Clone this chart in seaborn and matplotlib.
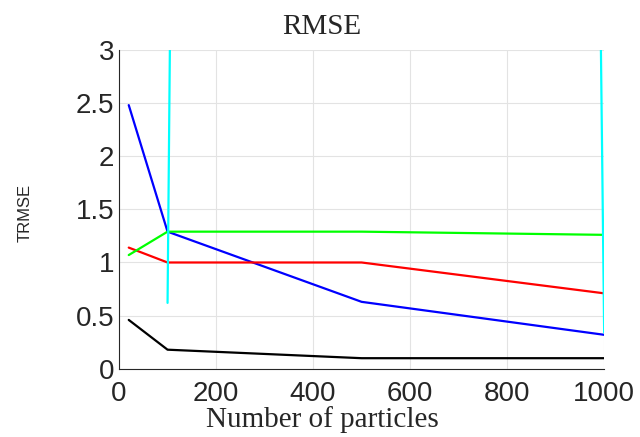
import numpy as np
import pandas as pd
import matplotlib
matplotlib.use("Agg")
import matplotlib.pyplot as plt
import seaborn as sns
from matplotlib.ticker import MultipleLocator

particles = [20, 100, 500, 1000]
blue_vals = [2.48, 1.29, 0.63, 0.32]
red_vals = [1.14, 1.00, 1.00, 0.71]
green_vals = [1.07, 1.29, 1.29, 1.26]
black_vals = [0.46, 0.18, 0.10, 0.10]
cyan_particles = [100, 500, 1000]
cyan_vals = [0.62, 200.0, 0.34]

frames = []
for name, xs, ys in [("blue", particles, blue_vals), ("red", particles, red_vals),
                     ("green", particles, green_vals), ("black", particles, black_vals),
                     ("cyan", cyan_particles, cyan_vals)]:
    frames.append(pd.DataFrame({"x": xs, "y": ys, "s": name}))
df = pd.concat(frames, ignore_index=True)

sns.set_style("white")
fig = plt.figure(figsize=(6.4, 4.37), dpi=100)
ax = fig.add_axes([0.186, 0.156, 0.758, 0.73])

palette = {"blue": "#0000ff", "red": "#ff0000", "green": "#00ff00",
           "black": "#000000", "cyan": "#00ffff"}
sns.lineplot(data=df, x="x", y="y", hue="s", palette=palette, ax=ax,
             linewidth=1.6, legend=False, sort=False, estimator=None)

ax.set_xlim(0, 1000)
ax.set_ylim(0, 3)
ax.xaxis.set_major_locator(MultipleLocator(200))
ax.yaxis.set_major_locator(MultipleLocator(0.5))
ax.xaxis.set_minor_locator(MultipleLocator(20))
ax.yaxis.set_minor_locator(MultipleLocator(0.05))
ax.yaxis.set_major_formatter(plt.FuncFormatter(lambda v, p: f"{v:g}"))
ax.grid(True, which="major", color="#e3e3e3", linewidth=0.8)
ax.set_axisbelow(True)
for s in ["top", "right"]:
    ax.spines[s].set_visible(False)
for s in ["left", "bottom"]:
    ax.spines[s].set_color("#262626")
    ax.spines[s].set_linewidth(0.8)
ax.tick_params(which="major", direction="in", length=4, color="#262626",
               labelsize=20, labelcolor="#262626")
ax.tick_params(axis="y", which="major", pad=3.5)
ax.tick_params(axis="x", which="major", pad=9)
ax.tick_params(which="minor", direction="in", length=2, color="#262626", width=0.5)
for lbl in ax.get_xticklabels() + ax.get_yticklabels():
    lbl.set_family("Liberation Sans")

ax.set_title("RMSE", family="Liberation Serif", fontsize=21, pad=11.5, x=0.4186)
ax.set_xlabel("Number of particles", family="Liberation Serif", fontsize=21)
ax.xaxis.set_label_coords(0.4186, -0.116)
ax.set_ylabel("TRMSE", family="Liberation Sans", fontsize=12)
ax.yaxis.set_label_coords(-0.178, 0.49)

fig.savefig("out.png", dpi=100)
